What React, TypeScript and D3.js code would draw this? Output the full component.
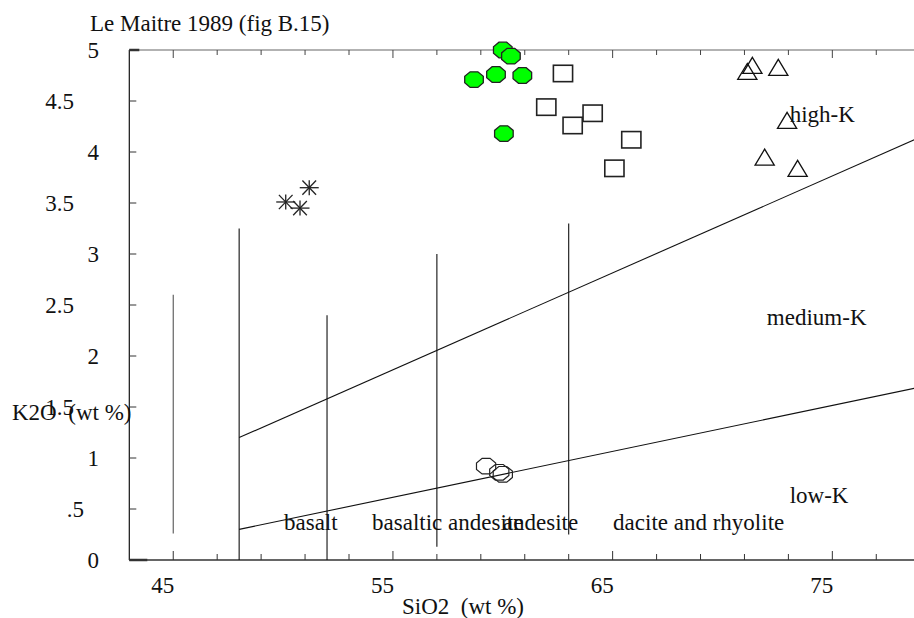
import React from "react";
import * as d3 from "d3";

// ---- data ----
const greenSiO2 = [60.0, 60.37, 58.69, 59.69, 60.89, 60.05];
const greenK2O = [5.0, 4.94, 4.71, 4.76, 4.75, 4.18];
const squareSiO2 = [62.74, 61.98, 64.09, 63.18, 65.85, 65.08];
const squareK2O = [4.77, 4.44, 4.38, 4.26, 4.12, 3.84];
const triangleSiO2 = [71.36, 71.13, 72.54, 72.94, 71.92, 73.42];
const triangleK2O = [4.85, 4.79, 4.83, 4.31, 3.95, 3.84];
const starSiO2 = [51.19, 50.12, 50.77];
const starK2O = [3.65, 3.51, 3.45];
const openOctSiO2 = [59.24, 59.84, 60.0];
const openOctK2O = [0.92, 0.86, 0.84];

const dividerSiO2 = [45, 48, 52, 57, 63];
const dividerBottom = [0.26, 0, 0, 0.13, 0.25];
const dividerTop = [2.6, 3.25, 2.4, 3.0, 3.3];

const highKLine: [number, number][] = [[48, 1.2], [79, 4.145]];
const lowKLine: [number, number][] = [[48, 0.3], [79, 1.695]];

const xTickLabels = [45, 55, 65, 75];
const xMinorTicks = d3.range(45, 80, 2);
const yTickValues = d3.range(0, 5.01, 0.5);
const yTickLabels = ["0", ".5", "1", "1.5", "2", "2.5", "3", "3.5", "4", "4.5", "5"];

const fieldNames = ["basalt", "basaltic andesite", "andesite", "dacite and rhyolite"];
const fieldSiO2 = [50.04, 54.05, 60.0, 65.02];
const seriesNames = ["high-K", "medium-K", "low-K"];
const seriesSiO2 = [73.06, 72.02, 73.06];
const seriesK2O = [4.294, 2.304, 0.559];

const W = 914;
const H = 618;
const FONT = "'Liberation Serif', 'Times New Roman', serif";

export default function App() {
  const x = d3.scaleLinear().domain([43, 79]).range([129.3, 129.3 + 36 * 21.97]);
  const y = d3.scaleLinear().domain([0, 5]).range([560, 50]);
  const line = d3.line<[number, number]>().x((d) => x(d[0])).y((d) => y(d[1]));

  const octagon = (cx: number, cy: number, rx: number, ry: number) => {
    const pts = d3.range(8).map((i) => {
      const a = (Math.PI / 8) + (i * Math.PI) / 4;
      return [cx + rx * Math.cos(a) / Math.cos(Math.PI / 8), cy + ry * Math.sin(a) / Math.cos(Math.PI / 8)];
    });
    return "M" + pts.map((p) => p.join(",")).join("L") + "Z";
  };

  const textStyle = { fontFamily: FONT, fontSize: 23, fill: "#111", whiteSpace: "pre" as const };

  return (
    <svg width={W} height={H} style={{ position: "absolute", left: 0, top: 0, background: "#fff" }}>
      <rect x={0} y={0} width={W} height={H} fill="#fff" />
      {/* axes */}
      <line x1={x(43)} x2={W} y1={y(5)} y2={y(5)} stroke="#666" strokeWidth={1.2} />
      <line x1={x(43)} x2={W} y1={y(0)} y2={y(0)} stroke="#333" strokeWidth={1.3} />
      <line x1={x(43)} x2={x(43)} y1={y(0)} y2={y(5)} stroke="#111" strokeWidth={1.2} />
      <line x1={x(43)} x2={x(43) + 18} y1={y(0)} y2={y(0)} stroke="#333" strokeWidth={2.5} />
      <line x1={x(43)} x2={x(43) + 10} y1={y(5)} y2={y(5)} stroke="#333" strokeWidth={2.5} />
      {xMinorTicks.map((v) => {
        const major = xTickLabels.includes(v);
        return (
          <g key={"xt" + v}>
            <line x1={x(v)} x2={x(v)} y1={y(0)} y2={y(0) - (major ? 9 : 6)} stroke="#333" strokeWidth={1} />
            <line x1={x(v)} x2={x(v)} y1={y(5)} y2={y(5) + (major ? 8 : 5)} stroke="#444" strokeWidth={1} />
          </g>
        );
      })}
      {yTickValues.map((v) => (
        <line key={"yt" + v} x1={x(43)} x2={x(43) + 7} y1={y(v)} y2={y(v)} stroke="#333" strokeWidth={1} />
      ))}
      {xTickLabels.map((v) => (
        <text key={"xl" + v} x={x(v) + 1} y={593} textAnchor="end" style={textStyle}>
          {v}
        </text>
      ))}
      {yTickValues.map((v, i) => {
        const lab = yTickLabels[i];
        const hasDot = lab.includes(".");
        const right = hasDot ? (lab.startsWith(".") ? 84 : 74) : 99;
        return (
          <text key={"yl" + v} x={right} y={y(v) + 8} textAnchor="end" style={textStyle}>
            {lab}
          </text>
        );
      })}

      {/* boundaries */}
      {dividerSiO2.map((v, i) => (
        <line
          key={"dv" + v}
          x1={x(v)}
          x2={x(v)}
          y1={y(dividerBottom[i])}
          y2={y(dividerTop[i])}
          stroke={i === 0 ? "#555" : "#111"}
          strokeWidth={1.1}
        />
      ))}
      <path d={line(highKLine) || ""} fill="none" stroke="#111" strokeWidth={1.1} />
      <path d={line(lowKLine) || ""} fill="none" stroke="#111" strokeWidth={1.1} />

      {/* labels */}
      {fieldNames.map((n, i) => (
        <text key={n} x={x(fieldSiO2[i])} y={530} style={textStyle}>
          {n}
        </text>
      ))}
      {seriesNames.map((n, i) => (
        <text key={n} x={x(seriesSiO2[i])} y={y(seriesK2O[i])} style={textStyle}>
          {n}
        </text>
      ))}
      <text x={90} y={31} style={textStyle}>Le Maitre 1989 (fig B.15)</text>
      <text x={12} y={420} style={textStyle}>{"K2O  (wt %)"}</text>
      <text x={402} y={614} style={textStyle}>{"SiO2  (wt %)"}</text>

      {/* markers */}
      {starSiO2.map((v, i) => {
        const cx = x(v);
        const cy = y(starK2O[i]);
        const rx = 9.5;
        const ry = 7.5;
        return (
          <g key={"st" + i} stroke="#222" strokeWidth={1.3}>
            <line x1={cx - rx} x2={cx + rx} y1={cy} y2={cy} />
            <line x1={cx} x2={cx} y1={cy - ry} y2={cy + ry} />
            <line x1={cx - rx * 0.72} x2={cx + rx * 0.72} y1={cy - ry * 0.95} y2={cy + ry * 0.95} />
            <line x1={cx - rx * 0.72} x2={cx + rx * 0.72} y1={cy + ry * 0.95} y2={cy - ry * 0.95} />
          </g>
        );
      })}
      {squareSiO2.map((v, i) => (
        <rect
          key={"sq" + i}
          x={x(v) - 9.6}
          y={y(squareK2O[i]) - 8.2}
          width={19.2}
          height={16.4}
          fill="#fff"
          stroke="#222"
          strokeWidth={1.6}
        />
      ))}
      {triangleSiO2.map((v, i) => {
        const cx = x(v);
        const cy = y(triangleK2O[i]);
        return (
          <path
            key={"tr" + i}
            d={`M${cx},${cy - 8}L${cx + 9.6},${cy + 8}L${cx - 9.6},${cy + 8}Z`}
            fill="none"
            stroke="#111"
            strokeWidth={1.3}
          />
        );
      })}
      {greenSiO2.map((v, i) => (
        <path
          key={"go" + i}
          d={octagon(x(v), y(greenK2O[i]), 9.3, 7.8)}
          fill="#00ff00"
          stroke="#222"
          strokeWidth={1.3}
        />
      ))}
      {openOctSiO2.map((v, i) => (
        <path
          key={"oo" + i}
          d={octagon(x(v), y(openOctK2O[i]), 9.6, 7.8)}
          fill="none"
          stroke="#222"
          strokeWidth={1.2}
        />
      ))}
    </svg>
  );
}
